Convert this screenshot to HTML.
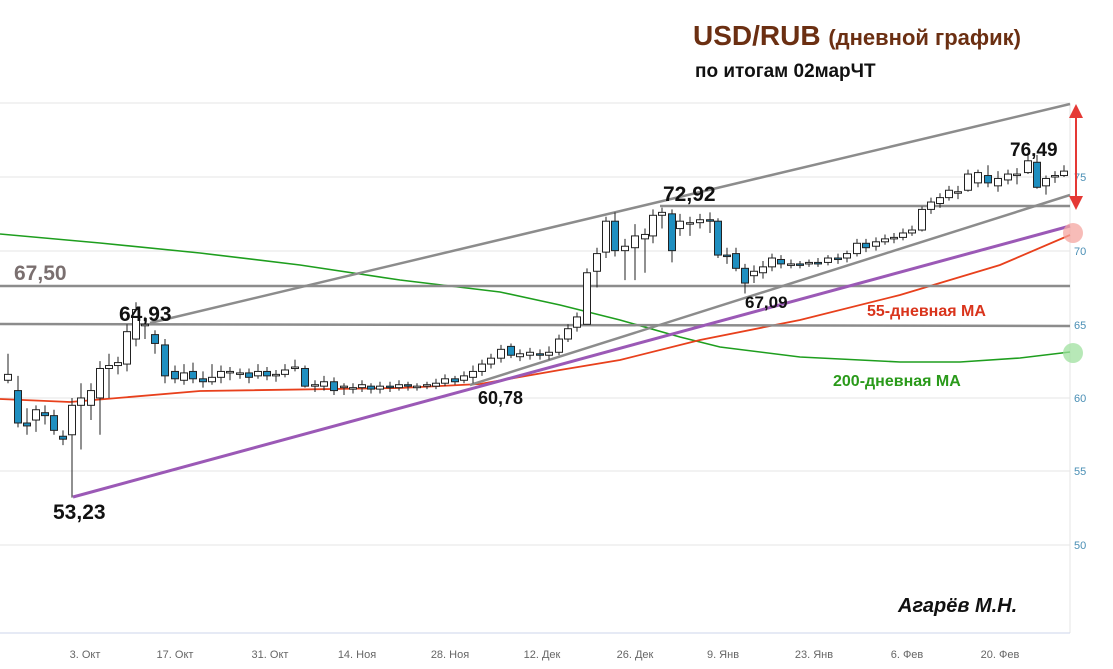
<!DOCTYPE html>
<html><head><meta charset="utf-8"><style>
body{margin:0;background:#fff;width:1113px;height:664px;overflow:hidden;font-family:"Liberation Sans",sans-serif}
</style></head><body>
<svg id="s" width="1113" height="664" xmlns="http://www.w3.org/2000/svg" font-family="Liberation Sans, sans-serif">
<g stroke="#e6e6e6" stroke-width="1">
<line x1="0" y1="103" x2="1070" y2="103"/>
<line x1="0" y1="177" x2="1070" y2="177"/>
<line x1="0" y1="251" x2="1070" y2="251"/>
<line x1="0" y1="398" x2="1070" y2="398"/>
<line x1="0" y1="471" x2="1070" y2="471"/>
<line x1="0" y1="545" x2="1070" y2="545"/>
<line x1="1070" y1="103" x2="1070" y2="633"/>
</g>
<line x1="0" y1="633" x2="1070" y2="633" stroke="#ccd6eb"/>
<g font-size="11" fill="#666" text-anchor="middle">
<text x="85" y="658">3. Окт</text><text x="175" y="658">17. Окт</text><text x="270" y="658">31. Окт</text>
<text x="357" y="658">14. Ноя</text><text x="450" y="658">28. Ноя</text><text x="542" y="658">12. Дек</text>
<text x="635" y="658">26. Дек</text><text x="723" y="658">9. Янв</text><text x="814" y="658">23. Янв</text>
<text x="907" y="658">6. Фев</text><text x="1000" y="658">20. Фев</text>
</g>
<g font-size="11" fill="#4a8fb5">
<text x="1074" y="181">75</text><text x="1074" y="255">70</text><text x="1074" y="329">65</text>
<text x="1074" y="402">60</text><text x="1074" y="475">55</text><text x="1074" y="549">50</text>
</g>
<polyline fill="none" stroke="#1e9e1e" stroke-width="1.6" points="0,234 100,243 200,253 300,265 400,280 500,292 560,305 620,320 680,337 720,347 800,357 900,362 960,362 1020,358 1070,352"/>
<polyline fill="none" stroke="#e8401c" stroke-width="1.8" points="0,399 70,402 200,391 400,388 480,384 560,370 620,360 700,340 800,320 900,295 1000,265 1070,235"/>
<g stroke="#8c8c8c" stroke-width="2.5">
<line x1="0" y1="286" x2="1070" y2="286"/>
<line x1="0" y1="324" x2="1070" y2="326"/>
<line x1="660" y1="206" x2="1070" y2="206"/>
<line x1="150" y1="323" x2="1070" y2="104"/>
<line x1="470" y1="385" x2="1070" y2="195"/>
</g>
<line x1="73" y1="497" x2="1070" y2="226" stroke="#9b59b6" stroke-width="3"/>
<g id="c"></g>
<circle cx="1073" cy="233" r="10" fill="#f4a6a0" opacity="0.75"/>
<circle cx="1073" cy="353" r="10" fill="#9fe09f" opacity="0.75"/>
<g stroke="#e53935" stroke-width="2" fill="#e53935">
<line x1="1076" y1="110" x2="1076" y2="202"/>
<polygon points="1069,118 1076,104 1083,118" stroke="none"/>
<polygon points="1069,196 1076,210 1083,196" stroke="none"/>
</g>
<text x="693" y="45" font-size="28" font-weight="bold" fill="#6b2f12">USD/RUB <tspan font-size="22">(дневной график)</tspan></text>
<text x="695" y="77" font-size="19" font-weight="bold" fill="#111">по итогам 02марЧТ</text>
<g font-weight="bold" font-size="21">
<text x="14" y="280" fill="#7a6f6f">67,50</text>
<text x="119" y="321" fill="#111">64,93</text>
<text x="663" y="201" fill="#111">72,92</text>
<text x="1010" y="156" fill="#111" font-size="19">76,49</text>
<text x="478" y="404" fill="#111" font-size="18">60,78</text>
<text x="53" y="519" fill="#111">53,23</text>
<text x="745" y="308" fill="#111" font-size="17">67,09</text>
</g>
<text x="867" y="316" font-size="16" font-weight="bold" fill="#d9341c">55-дневная MA</text>
<text x="833" y="386" font-size="16" font-weight="bold" fill="#2a9a1a">200-дневная MA</text>
<text x="898" y="612" font-size="20" font-weight="bold" font-style="italic" fill="#111">Агарёв М.Н.</text>
</svg>
<script>
var d=[[8,61.2,61.6,63,61],[18,60.5,58.3,61.5,58],[27,58.3,58.1,59.3,57.5],[36,58.5,59.2,59.5,57.7],[45,59,58.8,59.5,58.2],[54,58.8,57.8,59.2,57.5],[63,57.4,57.2,57.8,56.8],[72,57.5,59.5,60,53.23],[81,59.5,60,61,56.5],[91,59.5,60.5,61,58.5],[100,60,62,62.5,57.5],[109,62,62.2,63,60],[118,62.2,62.4,62.8,61.6],[127,62.3,64.5,65,61.8],[136,64,66,66.5,63.5],[145,64.9,65,65.5,64],[155,64.3,63.7,64.6,63],[165,63.6,61.5,64,61],[175,61.8,61.3,62.2,61],[184,61.2,61.7,62.3,60.9],[193,61.8,61.3,62.4,61],[203,61.3,61.1,61.8,60.7],[212,61.1,61.4,62.3,60.9],[221,61.4,61.8,62.2,61],[230,61.7,61.8,62.1,61.2],[240,61.7,61.7,62,61.3],[249,61.7,61.4,62,61],[258,61.5,61.8,62.3,61.3],[267,61.8,61.5,62.1,61.2],[276,61.5,61.6,61.9,61.1],[285,61.6,61.9,62.3,61.4],[295,62,62.1,62.6,61.8],[305,62,60.8,62.2,60.7],[315,60.8,60.9,61.2,60.4],[324,60.8,61.1,61.5,60.5],[334,61.1,60.5,61.4,60.2],[344,60.7,60.8,61,60.2],[353,60.6,60.7,61,60.3],[362,60.7,60.9,61.2,60.4],[371,60.8,60.6,61,60.3],[380,60.6,60.8,61.1,60.3],[390,60.8,60.7,61.1,60.4],[399,60.7,60.9,61.2,60.5],[408,60.9,60.8,61.1,60.5],[417,60.7,60.8,61,60.5],[427,60.8,60.9,61.1,60.6],[436,60.8,61,61.3,60.6],[445,61,61.3,61.6,60.8],[455,61.3,61.1,61.5,60.9],[464,61.2,61.5,61.8,61],[473,61.4,61.8,62.2,61],[482,61.8,62.3,62.6,61.5],[491,62.3,62.7,63,62],[501,62.7,63.3,63.6,62.4],[511,63.5,62.9,63.7,62.7],[520,62.8,63,63.3,62.5],[530,62.9,63.1,63.4,62.6],[540,63,62.9,63.3,62.6],[549,62.9,63.1,63.5,62.6],[559,63.1,64,64.3,62.9],[568,64,64.7,65,63.8],[577,64.8,65.5,65.8,64.5],[587,65,68.5,68.8,65],[597,68.6,69.8,70.2,67.5],[606,69.9,72,72.3,69.5],[615,72,70,72.6,69.6],[625,70,70.3,70.8,68],[635,70.2,71,71.8,68],[645,70.8,71.1,71.5,68.5],[653,71,72.4,72.8,70.5],[662,72.4,72.6,72.92,71.5],[672,72.5,70,72.8,69.2],[680,71.5,72,72.5,71],[690,71.8,71.9,72.3,71],[700,71.9,72.1,72.5,71.5],[710,72.1,72,72.6,71.2],[718,72,69.7,72.2,69.5],[727,69.7,69.6,70.2,69.1],[736,69.8,68.8,70.2,68.6],[745,68.8,67.8,69.1,67.09],[754,68.3,68.6,69,67.8],[763,68.5,68.9,69.3,68.1],[772,68.9,69.5,69.8,68.6],[781,69.4,69.1,69.7,68.8],[791,69.1,69.1,69.4,68.8],[800,69.1,69,69.3,68.8],[809,69.1,69.2,69.4,68.9],[818,69.2,69.1,69.5,68.9],[828,69.2,69.5,69.7,69],[838,69.5,69.4,69.8,69.1],[847,69.5,69.8,70,69.2],[857,69.8,70.5,70.8,69.6],[866,70.5,70.2,70.8,69.9],[876,70.3,70.6,70.9,70],[885,70.6,70.8,71.1,70.4],[894,70.8,70.9,71.2,70.5],[903,70.9,71.2,71.5,70.7],[912,71.2,71.4,71.7,71],[922,71.4,72.8,73,71.3],[931,72.8,73.3,73.6,72.5],[940,73.2,73.6,73.9,72.9],[949,73.6,74.1,74.4,73.4],[958,74,74,74.4,73.5],[968,74.1,75.2,75.5,74],[978,74.6,75.3,75.5,74.3],[988,75.1,74.6,75.8,74.3],[998,74.4,74.9,75.4,74],[1008,74.8,75.2,75.5,74.5],[1017,75.1,75.2,75.6,74.5],[1028,75.3,76.1,76.5,75.2],[1037,76,74.3,76.49,74.2],[1046,74.4,74.9,75.1,73.8],[1055,75,75.1,75.4,74.6],[1064,75.1,75.4,75.8,75]];
function Y(v){return 177+(75-v)*14.73}
var h='';d.forEach(function(c){var x=c[0],o=c[1],cl=c[2];var t=Y(Math.max(o,cl)),b=Y(Math.min(o,cl));if(b-t<1.5){b=t+1.5}
h+='<line x1="'+x+'" x2="'+x+'" y1="'+Y(c[3])+'" y2="'+Y(c[4])+'" stroke="#222" stroke-width="1"/>';
h+='<rect x="'+(x-3.5)+'" y="'+t+'" width="7" height="'+(b-t)+'" fill="'+(cl<o?'#1f8fc0':'#fff')+'" stroke="#222" stroke-width="1"/>';});
document.getElementById('c').innerHTML=h;
</script>
</body></html>
